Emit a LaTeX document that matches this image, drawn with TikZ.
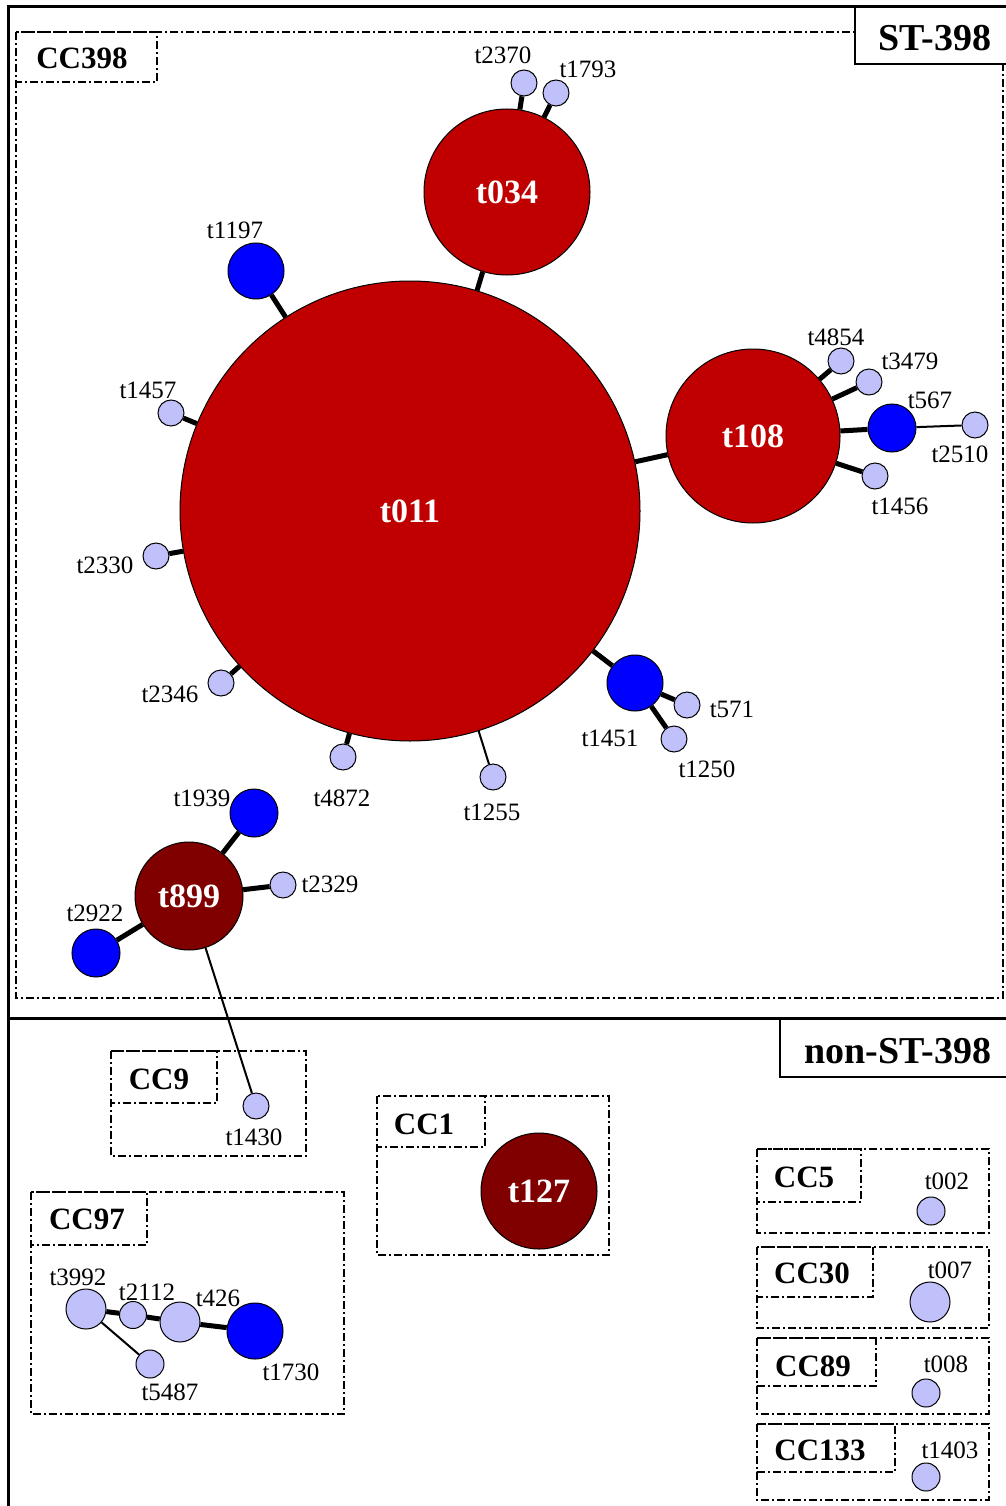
\documentclass[tikz,border=0pt]{standalone}
\usepackage{fontspec}
\setmainfont{Liberation Serif}
\definecolor{redc}{RGB}{192,0,0}
\definecolor{darkr}{RGB}{128,0,0}
\definecolor{bluec}{RGB}{0,0,255}
\definecolor{lightc}{RGB}{192,192,250}
\tikzset{
  tnode/.style={circle, draw=black, line width=1pt, inner sep=0pt},
  bigred/.style={tnode, fill=redc, text=white, font=\fontsize{34}{34}\selectfont\bfseries},
  darkred/.style={tnode, fill=darkr, text=white, font=\fontsize{34}{34}\selectfont\bfseries},
  bluen/.style={tnode, fill=bluec},
  lightn/.style={tnode, fill=lightc},
  lab/.style={inner sep=0pt, font=\fontsize{25}{25}\selectfont},
  cclab/.style={inner sep=0pt, font=\fontsize{31}{31}\selectfont\bfseries},
  stlab/.style={inner sep=0pt, font=\fontsize{38}{38}\selectfont\bfseries},
  ccbox/.style={line width=1.2pt, dash pattern=on 8pt off 3pt on 2pt off 3pt},
  frame/.style={line width=3pt},
  thickedge/.style={line width=5pt},
  thinedge/.style={line width=2pt}
}
\begin{document}
\begin{tikzpicture}[x=1pt,y=-1pt]
\useasboundingbox (0,0) rectangle (1005,1506);
% CC boxes
\draw[ccbox] (16,32) rectangle (1003,998);
\draw[ccbox] (16,32) rectangle (157,82);
\node[cclab] (cc398) at (82,58) {CC398};
\draw[ccbox] (111,1051) rectangle (306,1156);
\draw[ccbox] (111,1051) rectangle (217,1103);
\node[cclab] (cc9) at (159,1079) {CC9};
\draw[ccbox] (377,1096) rectangle (609,1255);
\draw[ccbox] (377,1096) rectangle (485,1147);
\node[cclab] (cc1) at (424,1124) {CC1};
\draw[ccbox] (31,1192) rectangle (344,1414);
\draw[ccbox] (31,1192) rectangle (147,1245);
\node[cclab] (cc97) at (87,1219) {CC97};
\draw[ccbox] (757,1149) rectangle (989,1233);
\draw[ccbox] (757,1149) rectangle (861,1202);
\node[cclab] (cc5) at (804,1177) {CC5};
\draw[ccbox] (757,1247) rectangle (989,1328);
\draw[ccbox] (757,1247) rectangle (873,1297);
\node[cclab] (cc30) at (812,1273) {CC30};
\draw[ccbox] (757,1338) rectangle (989,1414);
\draw[ccbox] (757,1338) rectangle (876,1386);
\node[cclab] (cc89) at (813,1366) {CC89};
\draw[ccbox] (757,1424) rectangle (989,1500);
\draw[ccbox] (757,1424) rectangle (895,1472);
\node[cclab] (cc133) at (820,1450) {CC133};
% frame
\draw[frame] (8,1510) -- (8,7) -- (1010,7);
\draw[frame] (8,1018) -- (1010,1018);
\fill[white] (855,8.5) rectangle (1010,64);
\draw[line width=2.5pt] (1010,64) -- (855,64) -- (855,7);
\draw[line width=2.5pt] (1010,1077) -- (780,1077) -- (780,1018);
\node[stlab] (st) at (935,38) {ST-398};
\node[stlab] (nst) at (898,1051) {non-ST-398};
% nodes
\node[bigred, minimum size=460pt] (t011) at (410,511) {t011};
\node[bigred, minimum size=166pt] (t034) at (507,192) {t034};
\node[bigred, minimum size=174pt] (t108) at (753,436) {t108};
\node[darkred, minimum size=108pt] (t899) at (189,896) {t899};
\node[darkred, minimum size=116pt] (t127) at (539,1191) {t127};
\node[bluen, minimum size=56pt] (t1197) at (256,271) {};
\node[bluen, minimum size=48pt] (t567) at (892,428) {};
\node[bluen, minimum size=56pt] (t1451) at (635,683) {};
\node[bluen, minimum size=48pt] (t1939) at (254,813) {};
\node[bluen, minimum size=48pt] (t2922) at (96,953) {};
\node[bluen, minimum size=56pt] (t1730) at (255,1331) {};
\node[lightn, minimum size=26pt] (t2370) at (524,83) {};
\node[lightn, minimum size=26pt] (t1793) at (556,93) {};
\node[lightn, minimum size=26pt] (t4854) at (841,361) {};
\node[lightn, minimum size=26pt] (t3479) at (869,382) {};
\node[lightn, minimum size=26pt] (t2510) at (975,425) {};
\node[lightn, minimum size=26pt] (t1456) at (875,476) {};
\node[lightn, minimum size=26pt] (t1457) at (171,413) {};
\node[lightn, minimum size=26pt] (t2330) at (156,556) {};
\node[lightn, minimum size=26pt] (t2346) at (221,683) {};
\node[lightn, minimum size=26pt] (t4872) at (343,757) {};
\node[lightn, minimum size=26pt] (t1255) at (493,777) {};
\node[lightn, minimum size=26pt] (t571) at (687,705) {};
\node[lightn, minimum size=26pt] (t1250) at (674,739) {};
\node[lightn, minimum size=26pt] (t2329) at (283,885) {};
\node[lightn, minimum size=26pt] (t1430) at (256,1106) {};
\node[lightn, minimum size=40pt] (t3992) at (86,1309) {};
\node[lightn, minimum size=27pt] (t2112) at (133,1315) {};
\node[lightn, minimum size=40pt] (t426) at (180,1322) {};
\node[lightn, minimum size=28pt] (t5487) at (150,1364) {};
\node[lightn, minimum size=28pt] (t002) at (931,1211) {};
\node[lightn, minimum size=40pt] (t007) at (930,1302) {};
\node[lightn, minimum size=28pt] (t008) at (926,1393) {};
\node[lightn, minimum size=28pt] (t1403) at (926,1477) {};
% edges
\draw[thickedge] (t011) -- (t034);
\draw[thickedge] (t011) -- (t1197);
\draw[thickedge] (t011) -- (t1457);
\draw[thickedge] (t011) -- (t2330);
\draw[thickedge] (t011) -- (t2346);
\draw[thickedge] (t011) -- (t4872);
\draw[thinedge] (t011) -- (t1255);
\draw[thickedge] (t011) -- (t1451);
\draw[thickedge] (t011) -- (t108);
\draw[thickedge] (t034) -- (t2370);
\draw[thickedge] (t034) -- (t1793);
\draw[thickedge] (t108) -- (t4854);
\draw[thickedge] (t108) -- (t3479);
\draw[thickedge] (t108) -- (t567);
\draw[thickedge] (t108) -- (t1456);
\draw[thinedge] (t567) -- (t2510);
\draw[thickedge] (t1451) -- (t571);
\draw[thickedge] (t1451) -- (t1250);
\draw[thickedge] (t899) -- (t1939);
\draw[thickedge] (t899) -- (t2329);
\draw[thickedge] (t899) -- (t2922);
\draw[thinedge] (t899) -- (t1430);
\draw[thickedge] (t3992) -- (t2112);
\draw[thickedge] (t2112) -- (t426);
\draw[thickedge] (t426) -- (t1730);
\draw[thinedge] (t3992) -- (t5487);
% labels
\node[lab] (l2370) at (503,55) {t2370};
\node[lab] (l1793) at (588,69) {t1793};
\node[lab] (l1197) at (235,230) {t1197};
\node[lab] (l1457) at (148,390) {t1457};
\node[lab] (l2330) at (105,565) {t2330};
\node[lab] (l2346) at (170,694) {t2346};
\node[lab] (l4872) at (342,798) {t4872};
\node[lab] (l1255) at (492,812) {t1255};
\node[lab] (l1451) at (610,738) {t1451};
\node[lab] (l1250) at (707,769) {t1250};
\node[lab] (l571) at (732,709) {t571};
\node[lab] (l4854) at (836,337) {t4854};
\node[lab] (l3479) at (910,361) {t3479};
\node[lab] (l567) at (930,400) {t567};
\node[lab] (l2510) at (960,454) {t2510};
\node[lab] (l1456) at (900,506) {t1456};
\node[lab] (l1939) at (202,798) {t1939};
\node[lab] (l2329) at (330,884) {t2329};
\node[lab] (l2922) at (95,913) {t2922};
\node[lab] (l1430) at (254,1137) {t1430};
\node[lab] (l3992) at (78,1277) {t3992};
\node[lab] (l2112) at (147,1292) {t2112};
\node[lab] (l426) at (218,1298) {t426};
\node[lab] (l5487) at (170,1392) {t5487};
\node[lab] (l1730) at (291,1372) {t1730};
\node[lab] (l002) at (947,1181) {t002};
\node[lab] (l007) at (950,1270) {t007};
\node[lab] (l008) at (946,1364) {t008};
\node[lab] (l1403) at (950,1450) {t1403};
\end{tikzpicture}
\end{document}
